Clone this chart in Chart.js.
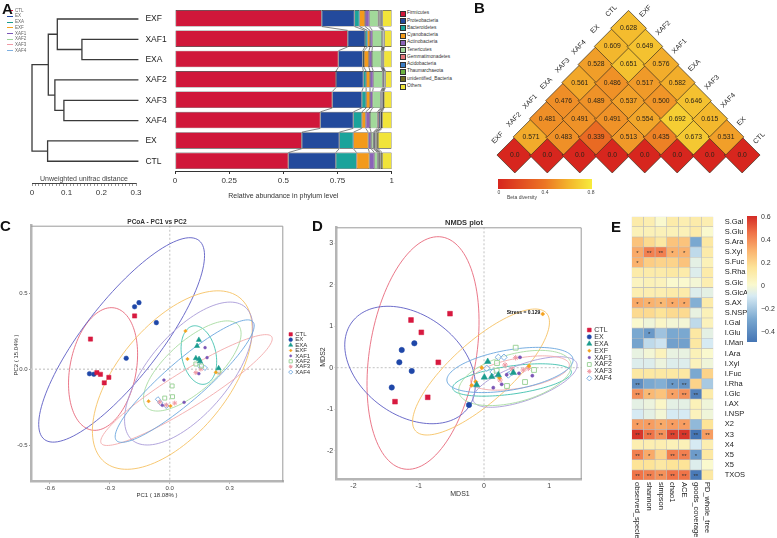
<!DOCTYPE html>
<html lang="en">
<head>
<meta charset="utf-8">
<title>Microbiota figure</title>
<script src="https://cdn.jsdelivr.net/npm/chart.js@4.4.1/dist/chart.umd.min.js"></script>
<style>
  html, body { margin: 0; padding: 0; background: #fff; }
  #fig { position: relative; width: 777px; height: 538px; overflow: hidden;
         font-family: "Liberation Sans", Arial, sans-serif; color: #222; }
  #fig canvas { position: absolute; }
  .t { position: absolute; white-space: nowrap; line-height: 1; }
  .letra { font-weight: bold; font-size: 15px; color: #111; }
</style>
</head>
<body>
<div id="fig"></div>
<script>
// ============================================================
//  Figura compuesta: A dendrograma + barras de filos,
//  B matriz beta (rombos), C PCoA, D NMDS, E correlaciones.
// ============================================================

const GRUPOS = ['CTL', 'EX', 'EXA', 'EXF', 'XAF1', 'XAF2', 'XAF3', 'XAF4'];

// ---------- A: dendrograma ----------
const HOJAS_A = ['EXF', 'XAF1', 'EXA', 'XAF2', 'XAF3', 'XAF4', 'EX', 'CTL'];
// [nodo, hijo1, hijo2, distancia desde la raíz]
const NODOS_A = [
    ['n1', 'XAF1', 'EXA', 0.144],
    ['n2', 'EXF', 'n1', 0.073],
    ['n3', 'XAF3', 'XAF4', 0.092],
    ['n4', 'XAF2', 'n3', 0.066],
    ['n5', 'n2', 'n4', 0.047],
    ['n6', 'EX', 'CTL', 0.045],
    ['raiz', 'n5', 'n6', 0.0],
];
const LARGO_HOJA = 0.307;
const TICKS_DENDRO = [0, 0.1, 0.2, 0.3];

// ---------- A: abundancia relativa por filo (orden de HOJAS_A) ----------
const FILOS = ['Firmicutes', 'Proteobacteria', 'Bacteroidetes', 'Cyanobacteria', 'Actinobacteria',
    'Tenericutes', 'Gemmatimonadetes', 'Acidobacteria', 'Thaumarchaeota', 'unidentified_Bacteria', 'Others'];
const FIRMICUTES     = [0.677, 0.797, 0.754, 0.743, 0.726, 0.671, 0.585, 0.523];
const PROTEOBACTERIA = [0.151, 0.080, 0.112, 0.126, 0.136, 0.152, 0.173, 0.219];
const BACTEROIDETES  = [0.023, 0.011, 0.006, 0.013, 0.020, 0.039, 0.065, 0.096];
const CYANOBACTERIA  = [0.026, 0.012, 0.023, 0.018, 0.018, 0.018, 0.069, 0.059];
const ACTINOBACTERIA = [0.020, 0.011, 0.014, 0.015, 0.012, 0.020, 0.013, 0.023];
const TENERICUTES    = [0.041, 0.044, 0.043, 0.043, 0.037, 0.034, 0.010, 0.015];
const GEMMATIMONAD   = [0.006, 0.003, 0.003, 0.003, 0.004, 0.007, 0.004, 0.005];
const ACIDOBACTERIA  = [0.005, 0.003, 0.003, 0.004, 0.004, 0.007, 0.006, 0.005];
const THAUMARCHAEOTA = [0.003, 0.002, 0.002, 0.002, 0.003, 0.003, 0.004, 0.003];
const UNIDENTIFIED   = [0.005, 0.003, 0.003, 0.004, 0.004, 0.005, 0.008, 0.008];
const OTHERS         = [0.043, 0.034, 0.037, 0.029, 0.036, 0.044, 0.063, 0.044];
const TICKS_FILOS = [0, 0.25, 0.5, 0.75, 1];
const COLOR_FILOS = ['#D0173A', '#234A9C', '#1BA39B', '#F39A1B', '#8B63B8', '#A2D99A',
    '#E5767A', '#3B7CC4', '#6DB33F', '#6E6A1E', '#F1E43A'];

// ---------- B: diversidad beta ----------
const ORDEN_B = ['EXF', 'XAF2', 'XAF1', 'EXA', 'XAF3', 'XAF4', 'EX', 'CTL'];
// fila d = separación entre muestras (0 = diagonal)
const BETA_D0 = [0, 0, 0, 0, 0, 0, 0, 0];
const BETA_D1 = [0.571, 0.483, 0.339, 0.513, 0.435, 0.673, 0.531];
const BETA_D2 = [0.481, 0.491, 0.491, 0.554, 0.692, 0.615];
const BETA_D3 = [0.476, 0.489, 0.537, 0.500, 0.646];
const BETA_D4 = [0.561, 0.486, 0.517, 0.582];
const BETA_D5 = [0.528, 0.651, 0.576];
const BETA_D6 = [0.609, 0.649];
const BETA_D7 = [0.628];

// ---------- C: PCoA ----------
const PCOA_CTL  = [[-0.397, 0.200], [-0.176, 0.352], [-0.365, -0.022], [-0.347, -0.033], [-0.305, -0.053], [-0.328, -0.089]];
const PCOA_EX   = [[-0.176, 0.413], [-0.154, 0.440], [-0.067, 0.308], [-0.218, 0.073], [-0.402, -0.029], [-0.380, -0.033]];
const PCOA_EXA  = [[0.146, 0.194], [0.137, 0.154], [0.131, 0.073], [0.147, 0.068], [0.152, 0.053], [0.245, 0.007]];
const PCOA_EXF  = [[0.079, 0.253], [0.089, 0.068], [0.231, -0.020], [-0.106, -0.211], [0.004, -0.242]];
const PCOA_XAF1 = [[0.177, 0.143], [0.187, 0.077], [0.146, -0.029], [-0.029, -0.071], [0.072, -0.218], [-0.037, -0.238]];
const PCOA_XAF2 = [[0.012, -0.110], [0.014, -0.181], [0.159, 0.022], [0.131, 0.035], [0.245, -0.012], [-0.025, -0.190]];
const PCOA_XAF3 = [[0.131, -0.022], [0.248, -0.022], [-0.017, -0.236], [-0.050, -0.216], [0.156, 0.002], [0.025, -0.223]];
const PCOA_XAF4 = [[0.151, 0.022], [0.159, 0.028], [-0.059, -0.198], [-0.047, -0.221], [-0.017, -0.242], [0.176, 0.009]];
// elipses: centro, extremo del eje mayor, extremo del eje menor
const ELIPSE_C_CENTRO = [[-0.334, 0.002], [-0.241, 0.194], [0.146, 0.094], [0.013, -0.071], [0.095, -0.028], [0.113, 0.022], [0.084, -0.137], [0.075, -0.078]];
const ELIPSE_C_MAYOR  = [[-0.276, 0.405], [0.146, 0.851], [0.116, 0.286], [0.352, 0.471], [0.377, 0.412], [0.343, 0.293], [0.511, 0.215], [0.417, 0.314]];
const ELIPSE_C_MENOR  = [[-0.171, -0.038], [-0.090, 0.040], [0.230, 0.117], [0.226, -0.302], [0.249, -0.198], [0.196, -0.101], [0.132, -0.237], [0.141, -0.177]];

// ---------- D: NMDS ----------
const NMDS_CTL  = [[-1.118, 1.149], [-0.960, 0.853], [-0.521, 1.301], [-0.700, 0.130], [-1.363, -0.819], [-0.862, -0.713]];
const NMDS_EX   = [[-1.067, 0.588], [-1.260, 0.427], [-1.297, 0.130], [-1.107, -0.080], [-1.413, -0.477], [-0.230, -0.899]];
const NMDS_EXA  = [[0.057, 0.145], [0.005, -0.231], [0.118, -0.217], [-0.112, -0.417], [0.449, -0.120], [0.219, -0.176]];
const NMDS_EXF  = [[-0.035, 0.0], [-0.188, -0.424], [0.234, -0.241], [0.899, 1.294], [0.689, 0.041], [-0.127, -0.337]];
const NMDS_XAF1 = [[0.142, -0.482], [0.271, -0.400], [0.551, 0.251], [0.536, -0.135], [0.740, -0.193], [0.348, -0.169]];
const NMDS_XAF2 = [[0.485, 0.482], [0.194, -0.072], [0.199, 0.113], [0.628, -0.345], [0.352, -0.441], [0.766, -0.055]];
const NMDS_XAF3 = [[0.485, 0.241], [0.322, 0.065], [0.602, -0.055], [0.678, -0.014], [0.245, -0.296], [0.429, -0.031]];
const NMDS_XAF4 = [[0.219, 0.251], [0.306, 0.251], [0.041, -0.014], [0.372, -0.176], [0.424, -0.120], [0.138, -0.104]];
const ELIPSE_D_CENTRO = [[-0.934, 0.354], [-1.133, 0.065], [0.429, -0.296], [-0.046, -0.104], [0.628, -0.345], [0.475, -0.248], [0.551, -0.128], [0.398, -0.055]];
const ELIPSE_D_MAYOR  = [[-0.643, 3.149], [-0.245, -0.971], [1.338, -0.096], [0.956, 1.316], [1.420, 0.108], [1.332, 0.113], [1.306, 0.082], [1.363, 0.212]];
const ELIPSE_D_MENOR  = [[-0.127, 0.145], [-0.674, 1.029], [0.458, -0.631], [0.262, -0.641], [0.723, -0.752], [0.570, -0.807], [0.591, -0.484], [0.452, -0.530]];
const STRESS = 0.129;

// ---------- E: correlaciones ----------
const FILAS_E = ['S.Gal', 'S.Glu', 'S.Ara', 'S.Xyl', 'S.Fuc', 'S.Rha', 'S.Glc', 'S.GlcA', 'S.AX', 'S.NSP',
    'I.Gal', 'I.Glu', 'I.Man', 'I.Ara', 'I.Xyl', 'I.Fuc', 'I.Rha', 'I.Glc', 'I.AX', 'I.NSP',
    'X2', 'X3', 'X4', 'X5', 'X5', 'TXOS'];
const COLUMNAS_E = ['observed_species', 'shannon', 'simpson', 'chao1', 'ACE', 'goods_coverage', 'PD_whole_tree'];
const CORR_E = [
    [0.10, 0.08, 0.00, 0.10, 0.08, 0.10, 0.08],
    [0.06, 0.06, 0.06, 0.06, 0.06, 0.10, 0.00],
    [0.25, 0.18, 0.12, 0.25, 0.25, -0.30, 0.12],
    [0.32, 0.42, 0.42, 0.30, 0.30, -0.15, 0.10],
    [0.30, 0.22, 0.20, 0.20, 0.25, -0.06, 0.06],
    [0.10, 0.10, 0.10, 0.12, 0.10, -0.08, 0.10],
    [0.04, 0.06, 0.05, 0.00, 0.00, -0.02, 0.08],
    [0.08, 0.08, 0.08, 0.10, 0.10, -0.08, -0.06],
    [0.32, 0.30, 0.28, 0.32, 0.32, -0.28, 0.10],
    [0.18, 0.18, 0.15, 0.18, 0.18, -0.05, 0.06],
    [0.00, -0.03, 0.02, -0.02, -0.02, -0.15, 0.05],
    [-0.30, -0.36, -0.22, -0.30, -0.30, 0.12, -0.06],
    [-0.32, -0.15, -0.12, -0.33, -0.33, 0.12, -0.10],
    [-0.05, -0.02, 0.05, -0.05, -0.05, 0.06, 0.00],
    [-0.08, -0.08, -0.04, -0.08, -0.08, 0.05, -0.03],
    [0.12, 0.12, 0.12, 0.12, 0.12, -0.30, 0.20],
    [-0.40, -0.30, -0.28, -0.36, -0.38, 0.20, -0.20],
    [0.38, 0.28, 0.25, 0.34, 0.38, -0.45, 0.10],
    [-0.06, -0.04, 0.02, -0.06, -0.06, 0.06, -0.03],
    [-0.10, -0.06, -0.02, -0.10, -0.10, 0.05, -0.03],
    [0.35, 0.35, 0.32, 0.35, 0.35, -0.25, 0.15],
    [0.58, 0.45, 0.38, 0.55, 0.58, -0.50, 0.35],
    [0.08, 0.08, 0.08, 0.06, 0.06, -0.10, 0.08],
    [0.42, 0.32, 0.20, 0.42, 0.42, -0.35, 0.12],
    [0.15, 0.15, 0.12, 0.15, 0.15, -0.08, 0.00],
    [0.45, 0.42, 0.38, 0.45, 0.45, -0.48, 0.12],
];
const ESTRELLAS_E = [
    [], [], [], ['*', '**', '**', '*', '*'], ['*'], [], [], [], ['*', '*', '*', '*', '*'], [],
    [], ['', '*'], [], [], [], [], ['**', '', '', '*', '**'], ['**', '*', '', '*', '**', '**'], [], [],
    ['*', '*', '*', '*', '*'], ['**', '**', '**', '**', '**', '**', '**'], [], ['**', '*', '', '**', '**', '*'], [],
    ['**', '**', '**', '**', '**', '**'],
];
const TICKS_BARRA_E = [0.6, 0.4, 0.2, 0, -0.2, -0.4];

// ---------- estilos ----------
const FUENTE = '"Liberation Sans", Arial, sans-serif';
const COLOR_PUNTO  = ['#D7193F', '#1F47A8', '#1A9C8E', '#F4A21E', '#7A56B6', '#9ED39A', '#F09AA4', '#7FB0E0'];
const COLOR_ELIPSE = ['#E8697C', '#5C5CC4', '#3EBFAE', '#F6C263', '#A99BD8', '#A7DBA0', '#F3A9AA', '#6AA6DE'];
const ESTILO_PUNTO = ['rect', 'circle', 'triangle', 'rectRot', 'circle', 'rect', 'star', 'rectRot'];
const PUNTO_ABIERTO = [false, false, false, false, false, true, false, true];
const RADIO_C = [3, 2.3, 3, 1.8, 1.4, 2.8, 2.4, 2.6];
const RADIO_D = [3.4, 2.7, 3.7, 2.1, 1.6, 3.4, 2.8, 3.2];

Chart.defaults.font.family = FUENTE;
Chart.defaults.color = '#333';
Chart.defaults.animation = false;
Chart.defaults.responsive = false;
Chart.defaults.devicePixelRatio = 1;
Chart.defaults.plugins.legend.display = false;
Chart.defaults.plugins.tooltip.enabled = false;

const fig = document.getElementById('fig');

function lienzo(x, y, w, h) {
    const c = document.createElement('canvas');
    c.width = w; c.height = h;
    c.style.left = x + 'px'; c.style.top = y + 'px';
    c.style.width = w + 'px'; c.style.height = h + 'px';
    fig.appendChild(c);
    return c;
}

// ancla: 'l' izquierda, 'c' centro, 'r' derecha (siempre centrado en vertical)
function texto(t, x, y, css = {}, ancla = 'l', giro = 0) {
    const d = document.createElement('div');
    d.className = 't';
    d.textContent = t;
    d.style.left = x + 'px';
    d.style.top = y + 'px';
    const tx = ancla === 'c' ? '-50%' : ancla === 'r' ? '-100%' : '0';
    d.style.transform = `translate(${tx}, -50%)` + (giro ? ` rotate(${giro}deg)` : '');
    Object.assign(d.style, css);
    fig.appendChild(d);
    return d;
}

function sinPadding(s) { s.paddingLeft = 0; s.paddingRight = 0; s.paddingTop = 0; s.paddingBottom = 0; }
const fijarAlto = h => s => { s.height = h; sinPadding(s); };
const fijarAncho = w => s => { s.width = w; sinPadding(s); };

function mezclar(stops, v) {
    if (v <= stops[0][0]) return stops[0][1];
    for (let i = 1; i < stops.length; i++) {
        if (v <= stops[i][0]) {
            const [v0, c0] = stops[i - 1], [v1, c1] = stops[i];
            const f = (v - v0) / (v1 - v0);
            return c0.map((c, k) => Math.round(c + (c1[k] - c) * f));
        }
    }
    return stops[stops.length - 1][1];
}
const rgb = c => `rgb(${c[0]},${c[1]},${c[2]})`;

// ============================================================
//  A — dendrograma
// ============================================================
const posA = {};
HOJAS_A.forEach((h, i) => { posA[h] = { x: LARGO_HOJA, y: i }; });
const ramasA = NODOS_A.map(([id, a, b, x]) => {
    const pa = posA[a], pb = posA[b];
    posA[id] = { x, y: (pa.y + pb.y) / 2 };
    return {
        data: [{ x: pa.x, y: pa.y }, { x, y: pa.y }, { x, y: pb.y }, { x: pb.x, y: pb.y }],
        showLine: true, borderColor: '#3a3a3a', borderWidth: 1.3,
        pointRadius: 0, tension: 0, clip: false,
    };
});

const pluginHojas = {
    id: 'hojas',
    afterDatasetsDraw(chart) {
        const { ctx, scales: { x, y } } = chart;
        ctx.save();
        ctx.font = `8.5px ${FUENTE}`;
        ctx.fillStyle = '#222';
        ctx.textBaseline = 'middle';
        HOJAS_A.forEach((h, i) => ctx.fillText(h, x.getPixelForValue(LARGO_HOJA) + 7, y.getPixelForValue(i)));
        ctx.restore();
    },
};

new Chart(lienzo(0, 0, 170, 200), {
    type: 'scatter',
    data: { datasets: ramasA },
    options: {
        layout: { padding: { left: 32, right: 34, top: 8.83, bottom: 0 } },
        scales: {
            x: {
                type: 'linear', min: 0, max: 0.3,
                // regla con marcas cada 0.01; sólo se rotulan las de TICKS_DENDRO
                afterBuildTicks: s => { s.ticks = Array.from({ length: 31 }, (_, i) => ({ value: i / 100 })); },
                ticks: {
                    autoSkip: false, maxRotation: 0, font: { size: 8 }, color: '#333', padding: 2,
                    callback: v => {
                        const t = TICKS_DENDRO.find(m => Math.abs(m - v) < 1e-6);
                        return t === undefined ? '' : String(t);
                    },
                },
                grid: { drawOnChartArea: false, tickLength: 3, color: '#555', lineWidth: 0.6 },
                border: { color: '#444', width: 1 },
                afterFit: fijarAlto(17),
            },
            y: { type: 'linear', reverse: true, min: -0.5, max: 8.07, display: false },
        },
    },
    plugins: [pluginHojas],
});
texto('Unweighted unifrac distance', 84, 178, { fontSize: '7px', color: '#444' }, 'c');

// mini leyenda de grupos
GRUPOS.forEach((g, i) => {
    const y = 10.7 + 5.7 * i;
    const l = document.createElement('div');
    Object.assign(l.style, { position: 'absolute', left: '7px', top: (y - 0.5) + 'px', width: '6px', height: '1px', background: COLOR_PUNTO[i] });
    fig.appendChild(l);
    texto(g, 15, y, { fontSize: '4.5px', color: '#666' });
});

// ============================================================
//  A — barras apiladas por filo
// ============================================================
const ABUNDANCIAS = [FIRMICUTES, PROTEOBACTERIA, BACTEROIDETES, CYANOBACTERIA, ACTINOBACTERIA,
    TENERICUTES, GEMMATIMONAD, ACIDOBACTERIA, THAUMARCHAEOTA, UNIDENTIFIED, OTHERS];

// Une los límites de cada segmento entre barras consecutivas
const pluginUniones = {
    id: 'uniones',
    afterDatasetsDraw(chart) {
        const { ctx } = chart;
        ctx.save();
        ctx.strokeStyle = '#333';
        ctx.lineWidth = 0.6;
        for (let j = 0; j < chart.data.datasets.length - 1; j++) {
            const barras = chart.getDatasetMeta(j).data;
            for (let i = 0; i < barras.length - 1; i++) {
                const a = barras[i], b = barras[i + 1];
                ctx.beginPath();
                ctx.moveTo(a.x, a.y + a.height / 2);
                ctx.lineTo(b.x, b.y - b.height / 2);
                ctx.stroke();
            }
        }
        ctx.restore();
    },
};

new Chart(lienzo(170, 0, 230, 200), {
    type: 'bar',
    data: {
        labels: HOJAS_A,
        datasets: FILOS.map((f, i) => ({
            label: f, data: ABUNDANCIAS[i], backgroundColor: COLOR_FILOS[i],
            borderColor: '#2a2a2a', borderWidth: 0.6, borderSkipped: false,
            barPercentage: 0.81, categoryPercentage: 1,
        })),
    },
    options: {
        indexAxis: 'y',
        layout: { padding: { left: 5, right: 8.3, top: 8.1, bottom: 0 } },
        scales: {
            x: {
                stacked: true, min: 0, max: 1,
                afterBuildTicks: s => { s.ticks = TICKS_FILOS.map(v => ({ value: v })); },
                ticks: { font: { size: 8 }, color: '#333', padding: 2, maxRotation: 0, callback: v => String(v) },
                grid: { drawOnChartArea: false, tickLength: 3, color: '#333' },
                border: { color: '#333', width: 1 },
                title: { display: true, text: 'Relative abundance in phylum level', font: { size: 7 }, color: '#333', padding: { top: 0, bottom: 0 } },
                afterFit: fijarAlto(29),
            },
            y: { stacked: true, display: false },
        },
    },
    plugins: [pluginUniones],
});

FILOS.forEach((f, i) => {
    const y = 13.3 + 7.27 * i;
    const c = document.createElement('div');
    Object.assign(c.style, { position: 'absolute', left: '400px', top: (y - 2.5) + 'px', width: '4px', height: '4px',
        background: COLOR_FILOS[i], border: '0.5px solid #333' });
    fig.appendChild(c);
    texto(f, 407, y, { fontSize: '4.8px', color: '#333' });
});

// ============================================================
//  B — diversidad beta en rombos
// ============================================================
const FILAS_B = [BETA_D0, BETA_D1, BETA_D2, BETA_D3, BETA_D4, BETA_D5, BETA_D6, BETA_D7];
const STOPS_B = [[0, [215, 38, 30]], [0.4, [236, 118, 36]], [0.6, [243, 180, 44]], [0.8, [247, 236, 60]]];
const puntosB = [];
FILAS_B.forEach((fila, d) => fila.forEach((v, k) => puntosB.push({ x: k + d / 2, y: d, v })));

const pluginRombos = {
    id: 'rombos',
    afterDatasetsDraw(chart) {
        const { ctx, scales: { x, y } } = chart;
        const meta = chart.getDatasetMeta(0);
        const r = 17.5;
        ctx.save();
        ctx.font = `6.8px ${FUENTE}`;
        ctx.fillStyle = '#2b2418';
        ctx.textAlign = 'center';
        ctx.textBaseline = 'middle';
        puntosB.forEach((p, i) => ctx.fillText(p.v === 0 ? '0.0' : p.v.toFixed(3), meta.data[i].x, meta.data[i].y));
        ctx.font = `7px ${FUENTE}`;
        ctx.fillStyle = '#222';
        ORDEN_B.forEach((g, i) => {
            const lx = x.getPixelForValue(i / 2), ly = y.getPixelForValue(i);
            ctx.save();
            ctx.translate(lx - r / 2 - 8.5, ly - r / 2 - 8.5);
            ctx.rotate(-Math.PI / 4);
            ctx.textAlign = 'center';
            ctx.fillText(g, 0, 0);
            ctx.restore();
            const rx = x.getPixelForValue((i + 7) / 2), ry = y.getPixelForValue(7 - i);
            ctx.save();
            ctx.translate(rx + r / 2 + 3.5, ry - r / 2 - 3.5);
            ctx.rotate(-Math.PI / 4);
            ctx.textAlign = 'left';
            ctx.fillText(g, 0, 0);
            ctx.restore();
        });
        ctx.restore();
    },
};

new Chart(lienzo(480, 0, 297, 200), {
    type: 'scatter',
    data: {
        datasets: [{
            data: puntosB,
            pointStyle: 'rectRot', pointRadius: 17.9,
            backgroundColor: puntosB.map(p => rgb(mezclar(STOPS_B, p.v))),
            borderColor: '#3b3020', borderWidth: 0.7, clip: false,
        }],
    },
    options: {
        layout: { padding: { left: 9.2, right: 7.8, top: 19.25, bottom: 27.4 } },
        scales: {
            x: { type: 'linear', min: -0.5, max: 7.5, display: false },
            y: { type: 'linear', min: -0.97, max: 7.5, display: false },
        },
    },
    plugins: [pluginRombos],
});

const barraB = document.createElement('div');
Object.assign(barraB.style, { position: 'absolute', left: '498px', top: '178.5px', width: '94px', height: '10px',
    background: 'linear-gradient(to right, ' + STOPS_B.map(([v, c]) => `${rgb(c)} ${v / 0.8 * 100}%`).join(', ') + ')' });
fig.appendChild(barraB);
texto('0', 499, 192, { fontSize: '5px', color: '#444' }, 'c');
texto('0.4', 545, 192, { fontSize: '5px', color: '#444' }, 'c');
texto('0.8', 591, 192, { fontSize: '5px', color: '#444' }, 'c');
texto('Beta diversity', 522, 197, { fontSize: '5px', color: '#444' }, 'c');

// ============================================================
//  C y D — ordenaciones con elipses
// ============================================================
const pluginElipses = {
    id: 'elipses',
    beforeDatasetsDraw(chart, args, o) {
        const { ctx, chartArea: a, scales: { x, y } } = chart;
        ctx.save();
        ctx.beginPath();
        ctx.rect(a.left, a.top, a.width, a.height);
        ctx.clip();
        o.centros.forEach((c, i) => {
            const cx = x.getPixelForValue(c[0]), cy = y.getPixelForValue(c[1]);
            const ux = x.getPixelForValue(o.mayores[i][0]) - cx, uy = y.getPixelForValue(o.mayores[i][1]) - cy;
            const vx = x.getPixelForValue(o.menores[i][0]) - cx, vy = y.getPixelForValue(o.menores[i][1]) - cy;
            ctx.beginPath();
            for (let k = 0; k <= 120; k++) {
                const t = k / 120 * Math.PI * 2;
                const px = cx + ux * Math.cos(t) + vx * Math.sin(t);
                const py = cy + uy * Math.cos(t) + vy * Math.sin(t);
                if (k === 0) ctx.moveTo(px, py); else ctx.lineTo(px, py);
            }
            ctx.strokeStyle = COLOR_ELIPSE[i];
            ctx.lineWidth = 0.9;
            ctx.stroke();
        });
        ctx.restore();
    },
};

const pluginMarco = {
    id: 'marco',
    beforeDatasetsDraw(chart, args, o) {
        const { ctx, chartArea: a, scales: { x, y } } = chart;
        const x0 = x.getPixelForValue(0), y0 = y.getPixelForValue(0);
        ctx.save();
        ctx.strokeStyle = o.colorCero;
        ctx.lineWidth = o.anchoCero;
        ctx.setLineDash([2, 2]);
        ctx.beginPath();
        ctx.moveTo(x0, a.top); ctx.lineTo(x0, a.bottom);
        ctx.moveTo(a.left, y0); ctx.lineTo(a.right, y0);
        ctx.stroke();
        ctx.setLineDash([]);
        ctx.strokeStyle = '#9a9a9a';
        ctx.lineWidth = 1;
        ctx.beginPath();
        ctx.moveTo(a.left, a.top + 0.5); ctx.lineTo(a.right - 0.5, a.top + 0.5); ctx.lineTo(a.right - 0.5, a.bottom);
        ctx.stroke();
        ctx.restore();
    },
};

const pluginLeyenda = {
    id: 'leyenda',
    afterDraw(chart, args, o) {
        const { ctx } = chart;
        const dibujar = Chart.helpers && Chart.helpers.drawPoint;
        chart.data.datasets.forEach((ds, i) => {
            const y = o.y0 + o.paso * i;
            ctx.save();
            ctx.fillStyle = ds.backgroundColor;
            ctx.strokeStyle = ds.borderColor;
            ctx.lineWidth = ds.borderWidth;
            if (dibujar) {
                dibujar(ctx, { pointStyle: ds.pointStyle, radius: ds.pointRadius * o.escala, rotation: 0, borderWidth: ds.borderWidth }, o.x, y);
            } else {
                ctx.fillRect(o.x - 2, y - 2, 4, 4);
            }
            ctx.fillStyle = '#333';
            ctx.font = `${o.tam}px ${FUENTE}`;
            ctx.textBaseline = 'middle';
            ctx.fillText(ds.label, o.x + o.sep, y);
            ctx.restore();
        });
    },
};

const pluginStress = {
    id: 'stress',
    afterDatasetsDraw(chart) {
        const { ctx, scales: { x, y } } = chart;
        const p = NMDS_EXF[3];
        ctx.save();
        ctx.font = `bold 5px ${FUENTE}`;
        ctx.fillStyle = '#111';
        ctx.textAlign = 'right';
        ctx.textBaseline = 'middle';
        ctx.fillText('Stress = ' + STRESS, x.getPixelForValue(p[0]) - 2.5, y.getPixelForValue(p[1]) - 1.5);
        ctx.restore();
    },
};

function datasetsGrupos(series, radios) {
    return GRUPOS.map((g, i) => ({
        label: g,
        data: series[i].map(([x, y]) => ({ x, y })),
        pointStyle: ESTILO_PUNTO[i],
        pointRadius: radios[i],
        backgroundColor: PUNTO_ABIERTO[i] ? 'rgba(255,255,255,0.6)' : COLOR_PUNTO[i],
        borderColor: COLOR_PUNTO[i],
        borderWidth: PUNTO_ABIERTO[i] || ESTILO_PUNTO[i] === 'star' ? 1 : 0.5,
    }));
}

function ejesOrdenacion(cfg) {
    return {
        x: {
            type: 'linear', min: cfg.xMin, max: cfg.xMax,
            afterBuildTicks: s => { s.ticks = cfg.xTicks.map(v => ({ value: v })); },
            ticks: { font: { size: cfg.tam }, color: '#444', padding: 1, maxRotation: 0, callback: cfg.formato },
            grid: { drawOnChartArea: false, tickLength: 2, color: '#999' },
            border: { color: '#b5b5b5', width: 2.5 },
            afterFit: fijarAlto(cfg.altoX),
        },
        y: {
            type: 'linear', min: cfg.yMin, max: cfg.yMax,
            afterBuildTicks: s => { s.ticks = cfg.yTicks.map(v => ({ value: v })); },
            ticks: { font: { size: cfg.tam }, color: '#444', padding: 1.5, callback: cfg.formato },
            grid: { drawOnChartArea: false, tickLength: 2, color: '#999' },
            border: { color: '#b5b5b5', width: 2.5 },
            afterFit: fijarAncho(cfg.anchoY),
        },
    };
}

// ---- C: PCoA ----
new Chart(lienzo(0, 205, 320, 300), {
    type: 'scatter',
    data: { datasets: datasetsGrupos([PCOA_CTL, PCOA_EX, PCOA_EXA, PCOA_EXF, PCOA_XAF1, PCOA_XAF2, PCOA_XAF3, PCOA_XAF4], RADIO_C) },
    options: {
        layout: { padding: { left: 0, right: 36.7, top: 20.7, bottom: 0 } },
        scales: ejesOrdenacion({
            xMin: -0.695, xMax: 0.569, yMin: -0.742, yMax: 0.948,
            xTicks: [-0.6, -0.3, 0, 0.3], yTicks: [-0.5, 0, 0.5],
            formato: v => v.toFixed(1), tam: 6, altoX: 23.3, anchoY: 31,
        }),
        plugins: {
            elipses: { centros: ELIPSE_C_CENTRO, mayores: ELIPSE_C_MAYOR, menores: ELIPSE_C_MENOR },
            marco: { colorCero: '#d2d2d2', anchoCero: 1.4 },
            leyenda: { x: 290.7, y0: 129.3, paso: 5.4, escala: 0.8, sep: 4.5, tam: 6 },
        },
    },
    plugins: [pluginMarco, pluginElipses, pluginLeyenda],
});
texto('PCoA - PC1 vs PC2', 157, 221.5, { fontSize: '6.5px', fontWeight: 'bold', color: '#333' }, 'c');
texto('PC1 ( 18.08% )', 157, 495, { fontSize: '6px', color: '#333' }, 'c');
texto('PC2 ( 15.04% )', 16, 355, { fontSize: '6px', color: '#333' }, 'c', -90);

// ---- D: NMDS ----
new Chart(lienzo(300, 205, 320, 300), {
    type: 'scatter',
    data: { datasets: datasetsGrupos([NMDS_CTL, NMDS_EX, NMDS_EXA, NMDS_EXF, NMDS_XAF1, NMDS_XAF2, NMDS_XAF3, NMDS_XAF4], RADIO_D) },
    options: {
        layout: { padding: { left: 0, right: 38.3, top: 22.3, bottom: 0 } },
        scales: ejesOrdenacion({
            xMin: -2.256, xMax: 1.496, yMin: -2.682, yMax: 3.383,
            xTicks: [-2, -1, 0, 1], yTicks: [-2, -1, 0, 1, 2, 3],
            formato: v => String(v), tam: 7, altoX: 26, anchoY: 36.7,
        }),
        plugins: {
            elipses: { centros: ELIPSE_D_CENTRO, mayores: ELIPSE_D_MAYOR, menores: ELIPSE_D_MENOR },
            marco: { colorCero: '#a8a8a8', anchoCero: 0.7 },
            leyenda: { x: 289.3, y0: 125, paso: 6.9, escala: 0.8, sep: 5, tam: 7 },
        },
    },
    plugins: [pluginMarco, pluginElipses, pluginStress, pluginLeyenda],
});
texto('NMDS plot', 464, 223.3, { fontSize: '7.5px', fontWeight: 'bold', color: '#333' }, 'c');
texto('MDS1', 460, 493.3, { fontSize: '7px', color: '#333' }, 'c');
texto('MDS2', 321.7, 356.7, { fontSize: '7px', color: '#333' }, 'c', -90);

// ============================================================
//  E — mapa de calor de correlaciones
// ============================================================
const STOPS_E = [[-0.5, [69, 117, 180]], [-0.3, [122, 168, 208]], [-0.1, [214, 234, 243]], [0, [250, 249, 206]],
    [0.15, [253, 228, 152]], [0.3, [250, 178, 110]], [0.45, [240, 116, 72]], [0.6, [212, 44, 38]]];

const pluginEstrellas = {
    id: 'estrellas',
    afterDatasetsDraw(chart) {
        const { ctx, scales: { x, y } } = chart;
        ctx.save();
        ctx.font = `6px ${FUENTE}`;
        ctx.fillStyle = '#333';
        ctx.textAlign = 'center';
        ctx.textBaseline = 'middle';
        ESTRELLAS_E.forEach((fila, r) => fila.forEach((m, c) => {
            if (m) ctx.fillText(m, x.getPixelForValue(c + 0.5), y.getPixelForValue(r) + 1.2);
        }));
        ctx.restore();
    },
};

new Chart(lienzo(620, 205, 157, 333), {
    type: 'bar',
    data: {
        labels: FILAS_E,
        datasets: COLUMNAS_E.map((col, c) => ({
            label: col,
            data: FILAS_E.map(() => 1),
            backgroundColor: CORR_E.map(fila => rgb(mezclar(STOPS_E, fila[c]))),
            borderColor: '#bdbdbd', borderWidth: 0.6, borderSkipped: false,
            barPercentage: 1, categoryPercentage: 1,
        })),
    },
    options: {
        indexAxis: 'y',
        layout: { padding: { left: 11.7, right: 0, top: 11.7, bottom: 57.9 } },
        scales: {
            x: { stacked: true, min: 0, max: 7, display: false },
            y: {
                stacked: true, position: 'right',
                ticks: { font: { size: 7.5 }, color: '#222', padding: 3.4, autoSkip: false },
                grid: { display: false }, border: { display: false },
                afterFit: fijarAncho(63.7),
            },
        },
    },
    plugins: [pluginEstrellas],
});

COLUMNAS_E.forEach((col, c) => {
    const d = texto(col, 631.7 + 11.67 * (c + 0.5), 482, { fontSize: '7.5px', color: '#222', writingMode: 'vertical-rl' }, 'c');
    d.style.transform = 'translate(-50%, 0)';
});

const barraE = document.createElement('div');
Object.assign(barraE.style, { position: 'absolute', left: '746.7px', top: '215.7px', width: '10px', height: '126.6px',
    background: 'linear-gradient(to bottom, ' + STOPS_E.slice().reverse().map(([v, c]) => `${rgb(c)} ${(0.6 - v) / 1.1 * 100}%`).join(', ') + ')' });
fig.appendChild(barraE);
TICKS_BARRA_E.forEach(v => {
    const t = v === 0 ? '0' : (v < 0 ? '\u2212' + Math.abs(v).toFixed(1) : v.toFixed(1));
    texto(t, 761, 216.3 + (0.6 - v) * 114.8, { fontSize: '7px', color: '#333' });
});

// letras de panel
texto('A', 2, 8, {}, 'l').className = 't letra';
texto('B', 474, 7, {}, 'l').className = 't letra';
texto('C', 0, 225, {}, 'l').className = 't letra';
texto('D', 312, 225, {}, 'l').className = 't letra';
texto('E', 611, 226, {}, 'l').className = 't letra';
</script>
</body>
</html>
